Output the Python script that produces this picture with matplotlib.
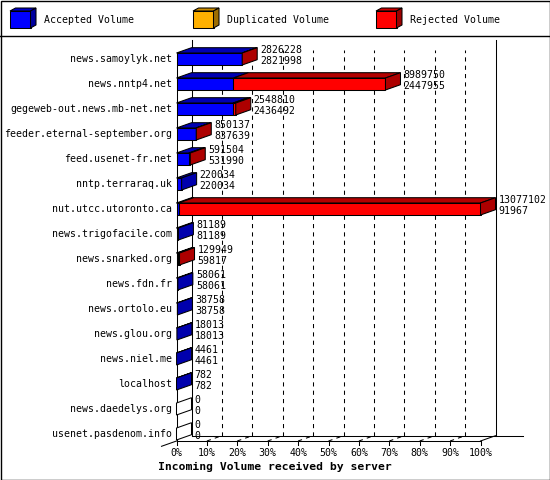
import numpy as np
import matplotlib
matplotlib.use('Agg')
import matplotlib.pyplot as plt
from matplotlib.patches import Polygon, Rectangle
from matplotlib.colors import to_rgb

servers = ['news.samoylyk.net', 'news.nntp4.net', 'gegeweb-out.news.mb-net.net',
           'feeder.eternal-september.org', 'feed.usenet-fr.net', 'nntp.terraraq.uk',
           'nut.utcc.utoronto.ca', 'news.trigofacile.com', 'news.snarked.org',
           'news.fdn.fr', 'news.ortolo.eu', 'news.glou.org', 'news.niel.me',
           'localhost', 'news.daedelys.org', 'usenet.pasdenom.info']
total_vol = [2826228, 8989750, 2548810, 850137, 591504, 220034, 13077102, 81189,
             129949, 58061, 38758, 18013, 4461, 782, 0, 0]
accepted_vol = [2821998, 2447955, 2436492, 837639, 531990, 220034, 91967, 81189,
                59817, 58061, 38758, 18013, 4461, 782, 0, 0]
duplicated_vol = [0] * 16
pct_ticks = [0, 10, 20, 30, 40, 50, 60, 70, 80, 90, 100]
tick_labels = ['%d%%' % p for p in pct_ticks]
series_names = ['Accepted Volume', 'Duplicated Volume', 'Rejected Volume']
series_colors = ['#0000ff', '#ffb000', '#ff0000']
title = 'Incoming Volume received by server'

total = np.array(total_vol, dtype=float)
acc = np.array(accepted_vol, dtype=float)
dup = np.array(duplicated_vol, dtype=float)
rej = total - acc - dup
scale = 100.0 / total.max()

FONT = 'DejaVu Sans Mono'
FS = 7.1
LW = 0.75


def shade(c, f):
    r, g, b = to_rgb(c)
    return (r * f, g * f, b * f)


# pixel layout of the picture
W, H = 550, 480
X0, X100, XEND = 176.5, 480.5, 523
YTOP, YFLOOR = 40, 441
ROW0, PITCH = 59, 25

fig = plt.figure(figsize=(W / 100, H / 100), dpi=100)
frame = fig.add_axes([0, 0, 1, 1])
frame.set_xlim(0, W)
frame.set_ylim(H, 0)
frame.axis('off')

ax = fig.add_axes([X0 / W, (H - YFLOOR) / H, (XEND - X0) / W, (YFLOOR - YTOP) / H])
px = 100.0 / (X100 - X0)        # one pixel in percent units
py = 1.0 / PITCH                # one pixel in row units
ax.set_xlim(0, (XEND - X0) * px)
y_floor = (YFLOOR - ROW0) * py
y_top = (YTOP - ROW0) * py
ax.set_ylim(y_floor, y_top)
ax.axis('off')

dx, dy = 15 * px, -5.3 * py     # depth of the 3d look
hh = 6.0 * py                   # half bar height

# walls and floor
k = dict(color='black', lw=LW, clip_on=False, zorder=1)
ax.plot([0, 100], [y_floor, y_floor], **k)
ax.plot([-dx, 0], [y_floor - dy, y_floor], **k)
ax.plot([100, 100 + dx], [y_floor, y_floor + dy], **k)
ax.plot([dx, ax.get_xlim()[1]], [y_floor + dy, y_floor + dy], **k)
ax.plot([dx, dx], [y_floor + dy, y_top], **k)
ax.plot([100 + dx, 100 + dx], [y_floor + dy, y_top], **k)
ax.plot([0, 0], [-hh, y_floor], **k)
for p in pct_ticks:
    ax.plot([p, p], [y_floor, y_floor + 4.5 * py], **k)
    if 0 < p < 100:
        ax.plot([p + dx, p + dx], [y_floor + dy, y_top + 10 * py], color='black',
                lw=LW, ls=(0, (4, 4)), clip_on=False, zorder=1)
        ax.plot([p, p + dx], [y_floor, y_floor + dy], color='black',
                lw=LW, ls=(0, (4, 4)), clip_on=False, zorder=1)
for p, lab in zip(pct_ticks, tick_labels):
    ax.text(p, y_floor + 12 * py, lab, ha='center', va='center',
            family=FONT, fontsize=FS)

# bars
for i in range(len(servers)):
    segs = [acc[i] * scale, dup[i] * scale, rej[i] * scale]
    top, bot = i - hh, i + hh
    x = 0.0
    last = None
    for w, c in zip(segs, series_colors):
        if w <= 0:
            continue
        ax.add_patch(Rectangle((x, top), w, bot - top, facecolor=c, edgecolor='black',
                               lw=LW, zorder=3, clip_on=False))
        ax.add_patch(Polygon([(x, top), (x + w, top), (x + w + dx, top + dy), (x + dx, top + dy)],
                             closed=True, facecolor=shade(c, 0.7), edgecolor='black',
                             lw=LW, zorder=3, clip_on=False))
        x += w
        last = c
    side = shade(last, 0.68) if last is not None else 'white'
    ax.add_patch(Polygon([(x, top), (x + dx, top + dy), (x + dx, bot + dy), (x, bot)],
                         closed=True, facecolor=side, edgecolor='black',
                         lw=LW, zorder=3, clip_on=False))
    ax.text(x + dx + 3 * px, i - 8.5 * py, '%d' % total_vol[i], ha='left', va='center',
            family=FONT, fontsize=FS, zorder=4)
    ax.text(x + dx + 3 * px, i + 2.5 * py, '%d' % accepted_vol[i], ha='left', va='center',
            family=FONT, fontsize=FS, zorder=4)
    ax.text(-4.5 * px, i + 0.5 * py, servers[i], ha='right', va='center',
            family=FONT, fontsize=FS)

# frame, legend, title
frame.add_patch(Rectangle((0.5, 0.5), W - 1, H - 1, fill=False, edgecolor='black', lw=1.0))
frame.plot([0, W], [35.5, 35.5], color='black', lw=1.0)
for j, (name, c) in enumerate(zip(series_names, series_colors)):
    bx = 10 + 183 * j
    by0, by1 = 11, 28
    bw, ddx, ddy = 20.5, 5.5, -3
    frame.add_patch(Rectangle((bx, by0), bw, by1 - by0, facecolor=c, edgecolor='black', lw=LW))
    frame.add_patch(Polygon([(bx, by0), (bx + bw, by0), (bx + bw + ddx, by0 + ddy), (bx + ddx, by0 + ddy)],
                            closed=True, facecolor=shade(c, 0.8), edgecolor='black', lw=LW))
    frame.add_patch(Polygon([(bx + bw, by0), (bx + bw + ddx, by0 + ddy), (bx + bw + ddx, by1 + ddy), (bx + bw, by1)],
                            closed=True, facecolor=shade(c, 0.62), edgecolor='black', lw=LW))
    frame.text(bx + 34, 20, name, ha='left', va='center', family=FONT, fontsize=FS)

frame.text(W / 2, 467, title, ha='center', va='center', family=FONT,
           fontsize=8.2, fontweight='bold')

fig.savefig('out.png', dpi=100)
